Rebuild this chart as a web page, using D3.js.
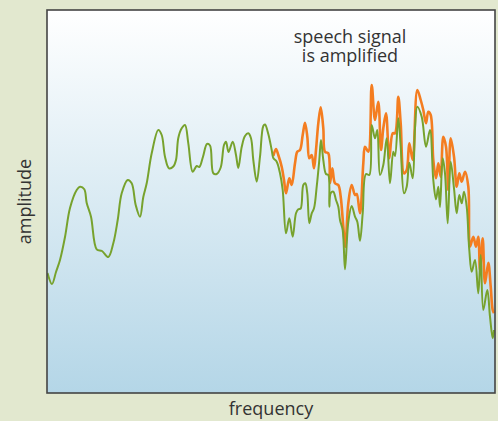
<!DOCTYPE html>
<html>
<head>
<meta charset="utf-8">
<script src="https://cdn.jsdelivr.net/npm/d3@7"></script>
<style>
	body { margin: 0; background: #e2e8cf; }
	text { font-family: "Open Sans", sans-serif; fill: #333; }
</style>
</head>
<body>
<div id="svg"></div>
<script>
const width = 498,
			height = 421;

const margin = { top: 10, right: 3, bottom: 28, left: 47 };

const plotW = width - margin.left - margin.right,
			plotH = height - margin.top - margin.bottom;

// Original speech spectrum (green), frequency vs amplitude, arbitrary units
const greenFreq = [0.5, 5, 9, 13, 18, 23, 29.7, 33, 37.3, 39.7, 44, 49.7, 55, 61.3, 66.3, 70.7, 74.7, 80.7, 84.7, 88.7,
	93, 96.3, 99.7, 104.7, 111.3, 114.7, 118, 122, 126.3, 129, 131.3, 134.7, 138, 141.3, 145.7, 149.7, 152.3, 156, 160, 163,
	166.3, 169.7, 173.7, 177, 179, 181.5, 185.7, 189, 191.3, 194.7, 198, 201.3, 204, 206.3, 209.7, 213, 216.3, 218, 221.3, 224.7,
	226.3, 229.7, 233, 235.7, 239, 242.3, 245.7, 249, 251.3, 253.7, 256.3, 258.3, 260.3, 262.3, 264.7, 267, 269.7, 272.3, 274, 276.3,
	279, 281.3, 282.3, 283.7, 286.3, 289, 291.3, 293, 295.7, 298, 301.3, 304.7, 308, 310.3, 313, 315.7, 319, 322.3, 324.7, 328,
	330.3, 333, 336.3, 339.7, 343, 346.3, 348, 351.3, 353.7, 357, 359.7, 362.3, 365.7, 368, 370.3, 374.7, 379, 383, 386.3, 389,
	391.3, 393, 395.7, 398, 400.7, 403.7, 407, 409.7, 412.3, 414.7, 417, 419.7, 422.3, 424.7, 428, 431.3, 433.7, 436.3, 440.3, 443,
	445.7, 447];
const greenAmp = [120, 109, 121, 133, 156, 185, 203, 206.3, 203.7, 190, 176.3, 143.7, 142, 136, 149.7, 173, 199.7, 213, 209.7, 188,
	176.3, 196, 209.7, 239.7, 263, 258, 236.3, 224.7, 226.5, 233, 255, 264.7, 268, 249.7, 221.3, 227, 226, 236.3, 249, 247.5,
	219.7, 219, 225.5, 248, 251.3, 241, 251.3, 238, 225, 246, 257, 259.7, 254.7, 233, 211.3, 236.3, 267, 268.5, 259, 243,
	235, 231.3, 219.7, 203, 159.7, 174.7, 156.3, 179.7, 183.7, 184.5, 208, 209.7, 199.7, 169.7, 179.7, 184.7, 206.3, 233, 253, 233,
	219, 218, 186.3, 199.7, 201.3, 193, 186.3, 173, 163, 123.7, 171, 187, 176.3, 171.3, 152.3, 179.7, 219, 218, 268, 254.7,
	263, 218, 228, 254.7, 209.7, 241.3, 237, 274.7, 246.3, 199.7, 206.3, 230.3, 214.7, 265, 286.3, 276.3, 246.3, 263, 213, 193.7,
	206.3, 186, 234.7, 219.7, 169.7, 231.3, 204.7, 179.7, 198, 189.7, 201.3, 186.3, 143, 121.3, 133, 99.7, 138, 83, 103, 76.3,
	54.7, 63];

// Amplified speech spectrum (orange)
const orangeFreq = [226.3, 229, 231.3, 234.7, 237, 239, 242.3, 244.7, 248, 250.3, 253, 255.7, 258, 260.3, 262.3, 264.7, 267, 269, 271.3, 273.7,
	276.3, 278, 281.3, 283, 285.3, 288, 291.3, 293.7, 296.3, 298.3, 301.3, 304.7, 308, 309.7, 313, 316.3, 318, 321.3, 324.7, 328,
	331.3, 334, 336.3, 339, 342.3, 345.7, 348, 351.3, 353.7, 357, 359.7, 362.3, 365.7, 370.3, 373.7, 376.3, 379, 381.3, 383.7, 386.3,
	389, 391.3, 393.7, 396.3, 399, 401.3, 403.7, 407, 409.7, 412.3, 414.7, 418, 421.3, 423, 426.3, 429, 431.3, 433, 435.7, 438,
	441.3, 443.7, 445.7, 447];
const orangeAmp = [237, 244, 238, 226.3, 213, 199.7, 214.7, 208, 229.7, 241.3, 243, 258, 270.3, 256.3, 234.7, 238, 224.7, 243, 269.7, 285.7,
	264.7, 241.3, 239.7, 209.7, 224.7, 209.7, 208, 196.3, 166.3, 146.3, 189.7, 208, 198, 199, 179.7, 229.7, 246.3, 241.3, 308, 273,
	291.3, 243, 264.7, 279.7, 234.7, 259.7, 259.7, 296.3, 269.7, 219.7, 223, 249.7, 233, 303, 293, 283, 269.7, 281.3, 278, 233,
	214.7, 229.7, 216.3, 256.3, 246.3, 203, 254.7, 236.3, 206.3, 219.7, 211.3, 221.3, 206.3, 146.3, 156.3, 146.3, 156.3, 123, 154.7, 109.7,
	130.3, 106.3, 83, 80];

const labels = { x: "frequency", y: "amplitude", note: ["speech signal", "is amplified"] };

const x = d3.scaleLinear()
		.domain([0, 448])
		.range([0, plotW]);

const y = d3.scaleLinear()
		.domain([0, 383])
		.range([plotH, 0]);

const svg = d3.select("#svg")
	.append("svg")
		.attr("width", width)
		.attr("height", height);

const defs = svg.append("defs");
const grad = defs.append("linearGradient")
		.attr("id", "bg")
		.attr("x1", 0).attr("y1", 0)
		.attr("x2", 0).attr("y2", 1);
grad.append("stop").attr("offset", "0%").attr("stop-color", "#ffffff");
grad.append("stop").attr("offset", "100%").attr("stop-color", "#b4d6e7");

defs.append("clipPath")
		.attr("id", "clip")
	.append("rect")
		.attr("width", plotW)
		.attr("height", plotH);

const g = svg.append("g")
		.attr("transform", `translate(${margin.left}, ${margin.top})`);

g.append("rect")
		.attr("width", plotW)
		.attr("height", plotH)
		.attr("fill", "url(#bg)");

const line = d3.line()
		.x(d => x(d[0]))
		.y(d => y(d[1]))
		.curve(d3.curveCatmullRom.alpha(0.5));

const lines = g.append("g")
		.attr("clip-path", "url(#clip)");

lines.append("path")
		.datum(d3.zip(orangeFreq, orangeAmp))
		.attr("fill", "none")
		.attr("stroke", "#f47d20")
		.attr("stroke-width", 2.6)
		.attr("stroke-linejoin", "round")
		.attr("d", line);

lines.append("path")
		.datum(d3.zip(greenFreq, greenAmp))
		.attr("fill", "none")
		.attr("stroke", "#77a22d")
		.attr("stroke-width", 2)
		.attr("stroke-linejoin", "round")
		.attr("d", line);

// Frame
g.append("rect")
		.attr("width", plotW)
		.attr("height", plotH)
		.attr("fill", "none")
		.attr("stroke", "#444")
		.attr("stroke-width", 1.6);

// Annotation, one text per line
g.selectAll(".note")
	.data(labels.note)
	.enter()
	.append("text")
		.attr("class", "note")
		.attr("x", x(303))
		.attr("y", (d, i) => 33 + i * 19)
		.attr("text-anchor", "middle")
		.style("font-size", "18px")
		.text(d => d);

// Axis titles
svg.append("text")
		.attr("x", margin.left + plotW / 2)
		.attr("y", 415)
		.attr("text-anchor", "middle")
		.style("font-size", "18px")
		.text(labels.x);

svg.append("text")
		.attr("transform", `translate(31, ${margin.top + plotH / 2}) rotate(-90)`)
		.attr("text-anchor", "middle")
		.style("font-size", "18px")
		.text(labels.y);
</script>
</body>
</html>
